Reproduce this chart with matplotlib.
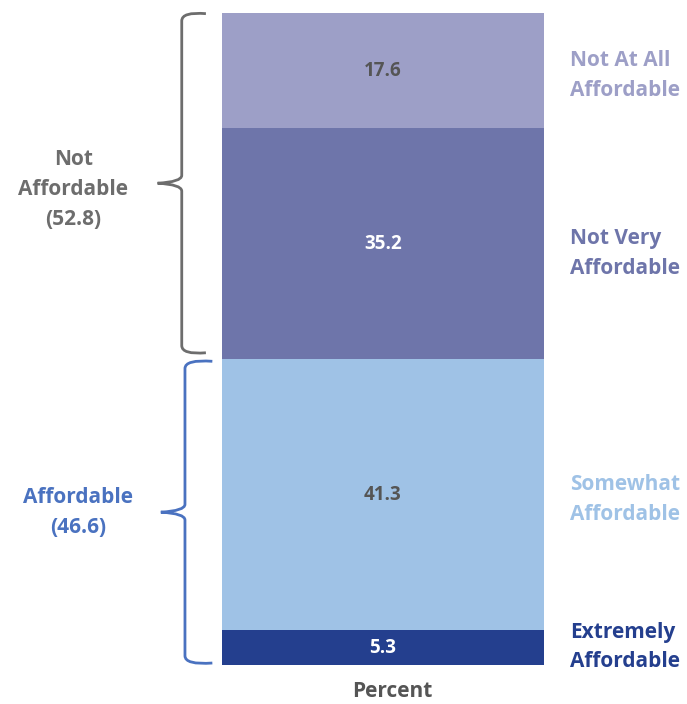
import matplotlib.pyplot as plt
from matplotlib.path import Path
from matplotlib.patches import PathPatch
import matplotlib.transforms as mtransforms

plt.rcParams['font.family'] = ['Open Sans', 'DejaVu Sans']

# data, bottom to top
categories = ["Extremely\nAffordable", "Somewhat\nAffordable", "Not Very\nAffordable", "Not At All\nAffordable"]
values = [5.3, 41.3, 35.2, 17.6]
bar_colors = ["#243f8e", "#9fc2e6", "#6e75aa", "#9d9fc7"]
value_colors = ["white", "#555555", "white", "#555555"]
label_shift = [0.1, -0.7, -1.5, -0.7]  # small nudges of right labels, in percent

groups = ["Affordable\n(46.6)", "Not\nAffordable\n(52.8)"]
group_ranges = [(0, 46.6), (46.6, 99.4)]
group_colors = ["#4a72c0", "#6d6d6d"]
group_x = [-0.447, -0.462]

fig = plt.figure(figsize=(6.87, 7.04), dpi=100)
ax = fig.add_axes([222 / 687, 39 / 704, 322 / 687, 652 / 704])
tr = mtransforms.blended_transform_factory(ax.transAxes, ax.transData)

bottom = 0
for cat, v, c, tc, sh in zip(categories, values, bar_colors, value_colors, label_shift):
    ax.bar(0, v, bottom=bottom, width=1.0, color=c)
    mid = bottom + v / 2
    ax.text(0, mid, f"{v}", ha="center", va="center", color=tc, fontsize=13.5, fontweight="bold")
    ax.text(1.08, mid + sh, cat, transform=tr, ha="left", va="center", color=c,
            fontsize=15, fontweight="bold", linespacing=1.55)
    bottom += v

ax.set_xlim(-0.5, 0.5)
ax.set_ylim(0, sum(values))
ax.axis("off")

ax.text(0.53, -0.04, "Percent", transform=ax.transAxes, ha="center", va="center",
        color="#555555", fontsize=15, fontweight="bold")


def brace(ax, y0, y1, x_line, x_end, x_tip, color):
    # curly brace opening to the right, in (axes x, data y)
    ym = (y0 + y1) / 2
    r = 1.2
    verts = [
        (x_end, y0 + 0.1), (x_line, y0 - 0.2), (x_line, y0 + r),
        (x_line, ym - r),
        (x_line, ym - 0.2), (x_tip, ym),
        (x_line, ym + 0.2), (x_line, ym + r),
        (x_line, y1 - r),
        (x_line, y1 + 0.2), (x_end, y1 - 0.1),
    ]
    codes = [Path.MOVETO, Path.CURVE3, Path.CURVE3, Path.LINETO,
             Path.CURVE3, Path.CURVE3, Path.CURVE3, Path.CURVE3,
             Path.LINETO, Path.CURVE3, Path.CURVE3]
    ax.add_patch(PathPatch(Path(verts, codes), fill=False, edgecolor=color, lw=2,
                           transform=tr, clip_on=False))


for g, (y0, y1), c, gx in zip(groups, group_ranges, group_colors, group_x):
    if y0 == 0:
        brace(ax, y0 + 0.2, y1 - 0.2, -0.115, -0.03, -0.19, c)
        ym = (y0 + y1) / 2
    else:
        brace(ax, y0 + 0.9, y1, -0.125, -0.05, -0.2, c)
        ym = (y0 + y1) / 2 - 0.5
    ax.text(gx, ym, g, transform=tr, ha="center", va="center",
            color=c, fontsize=15, fontweight="bold", linespacing=1.55)

fig.savefig("out.png", dpi=100)
